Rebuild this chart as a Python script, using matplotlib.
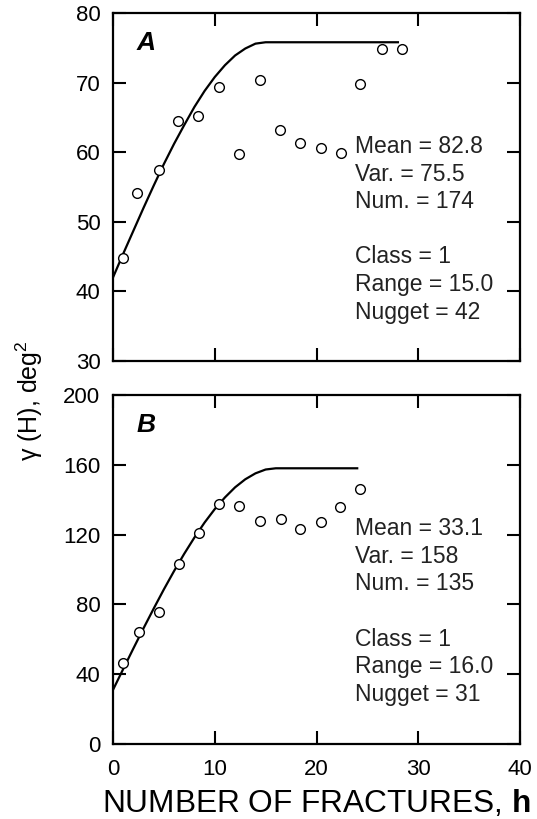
import matplotlib
matplotlib.use("Agg")
import matplotlib.pyplot as plt

plt.rcParams['font.family'] = ['Liberation Sans', 'DejaVu Sans']
plt.rcParams['mathtext.fontset'] = 'custom'
plt.rcParams['mathtext.rm'] = 'Liberation Sans'
plt.rcParams['mathtext.it'] = 'Liberation Sans:italic'
plt.rcParams['mathtext.bf'] = 'Liberation Sans:bold'

# panel A: observed variogram points
a_x = [1.0, 2.4, 4.5, 6.4, 8.4, 10.4, 12.4, 14.4, 16.4, 18.4, 20.4, 22.4, 24.3, 26.4, 28.4]
a_y = [44.8, 54.2, 57.5, 64.5, 65.2, 69.3, 59.8, 70.4, 63.2, 61.3, 60.6, 59.9, 69.8, 74.9, 74.9]
# panel A: fitted model curve
a_fit_x = [0, 1, 2, 3, 4, 5, 6, 7, 8, 9, 10, 11, 12, 13, 14, 15, 28]
a_fit_y = [42.0, 45.4, 48.7, 52.0, 55.2, 58.3, 61.2, 63.9, 66.5, 68.8, 70.8, 72.5, 73.9, 74.9, 75.6, 75.8, 75.8]
a_stats = ["Mean = 82.8", "Var. = 75.5", "Num. = 174", "Class = 1", "Range = 15.0", "Nugget = 42"]

# panel B
b_x = [1.0, 2.6, 4.5, 6.5, 8.5, 10.4, 12.4, 14.4, 16.5, 18.4, 20.4, 22.3, 24.3]
b_y = [46.2, 64.0, 75.6, 103.2, 120.7, 137.5, 136.4, 127.8, 128.8, 123.2, 127.0, 135.6, 146.1]
b_fit_x = [0, 1, 2, 3, 4, 5, 6, 7, 8, 9, 10, 11, 12, 13, 14, 15, 16, 24]
b_fit_y = [31.0, 42.9, 54.7, 66.3, 77.6, 88.6, 99.1, 109.0, 118.3, 126.9, 134.6, 141.3,
           147.1, 151.7, 155.1, 157.3, 158.0, 158.0]
b_stats = ["Mean = 33.1", "Var. = 158", "Num. = 135", "Class = 1", "Range = 16.0", "Nugget = 31"]

x_ticks = [0, 10, 20, 30, 40]
a_ticks = [30, 40, 50, 60, 70, 80]
b_ticks = [0, 40, 80, 120, 160, 200]

fig = plt.figure(figsize=(5.37, 8.19), dpi=100)
ax_a = fig.add_axes([0.2104, 0.5592, 0.758, 0.4249])
ax_b = fig.add_axes([0.2104, 0.0916, 0.758, 0.4261])

stat_y = [0.598, 0.518, 0.44, 0.281, 0.202, 0.122]


def panel(ax, px, py, fx, fy, stats, yticks, letter, show_x):
    ax.plot(fx, fy, color='black', linewidth=1.6, zorder=2)
    ax.plot(px, py, 'o', markersize=7, markerfacecolor='white',
            markeredgecolor='black', markeredgewidth=1.0, zorder=3)
    ax.set_xlim(0, 40)
    ax.set_ylim(yticks[0], yticks[-1])
    ax.set_xticks(x_ticks)
    ax.set_yticks(yticks)
    ax.tick_params(direction='in', length=9.5, width=1.5, top=True, right=True,
                   labelsize=16, color='black')
    ax.tick_params(axis='y', pad=9)
    ax.tick_params(axis='x', pad=11)
    if not show_x:
        ax.set_xticklabels([])
    for s in ax.spines.values():
        s.set_linewidth(1.6)
    ax.text(0.058, 0.893, letter, transform=ax.transAxes, fontsize=19,
            fontweight='bold', fontstyle='italic', va='baseline')
    for t, yy in zip(stats, stat_y):
        ax.text(0.595, yy, t, transform=ax.transAxes, fontsize=16.5, va='baseline',
                color='#222222')


panel(ax_a, a_x, a_y, a_fit_x, a_fit_y, a_stats, a_ticks, 'A', False)
panel(ax_b, b_x, b_y, b_fit_x, b_fit_y, b_stats, b_ticks, 'B', True)

fig.text(29 / 537, 1 - 401 / 819, "\u03b3 (H), deg$^2$", rotation=90, fontsize=18,
         ha='center', va='center')
fig.text(102 / 537, 0.009, r"NUMBER OF FRACTURES, $\mathbf{h}$", fontsize=22.8,
         ha='left', va='baseline')

fig.savefig("out.png", dpi=100)
